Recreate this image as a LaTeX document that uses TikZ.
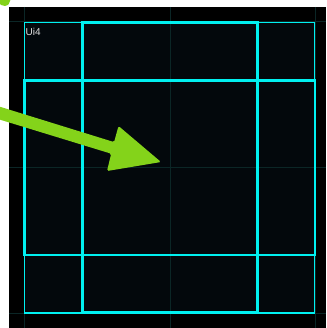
\documentclass[tikz,border=0pt]{standalone}
\usepackage{fontspec}
\setmainfont{Liberation Sans}
\definecolor{panel}{HTML}{03080C}
\definecolor{faint}{HTML}{0B2626}
\definecolor{cyanline}{HTML}{00F0F0}
\definecolor{arrowgreen}{HTML}{84D31A}
\tikzset{
  faintline/.style={draw=faint, line width=1},
  thinbox/.style={draw=cyanline, line width=1.3, inner sep=0, outer sep=0, anchor=north west},
  thickbox/.style={draw=cyanline, line width=2.2, inner sep=0, outer sep=0, anchor=north west},
  bigarrow/.style={fill=arrowgreen, rounded corners=1.5}
}
\begin{document}
\begin{tikzpicture}[x=1pt,y=-1pt]
\useasboundingbox (0,0) rectangle (326,328);
\fill[white] (0,0) rectangle (326,328);
\fill[black] (9,7) rectangle (326,328);
\fill[panel] (24,22) rectangle (315,313);
% faint guide lines
\foreach \x in {24,170,315} \draw[faintline] (\x,7) -- (\x,328);
\foreach \y in {22,168,313} \draw[faintline] (9,\y) -- (326,\y);
% boxes
\node[thinbox, minimum width=290, minimum height=290.5] (outer) at (24.5,22.5) {};
\node[thickbox, minimum width=175, minimum height=290] (tall) at (82.5,22.5) {};
\node[thickbox, minimum width=290.5, minimum height=174.5] (wide) at (24.5,80.5) {};
\node[text=white!88!black, font=\fontsize{10}{11}\selectfont, anchor=west, inner sep=0] (label) at (25.5,31.5) {Ui4};
% green arrow
\coordinate (tip) at (161,162);
\fill[bigarrow] (-12,116) -- (-8,104.3) -- (114.1,142.1) -- (118.5,126) -- (tip) -- (107,171) -- (111.2,153.7) -- cycle;
% top-left green fragment
\fill[arrowgreen, rounded corners=2] (-1,-3) -- (11,-3) -- (10,2) -- (7,6.5) -- (-1,4.5) -- cycle;
\end{tikzpicture}
\end{document}
